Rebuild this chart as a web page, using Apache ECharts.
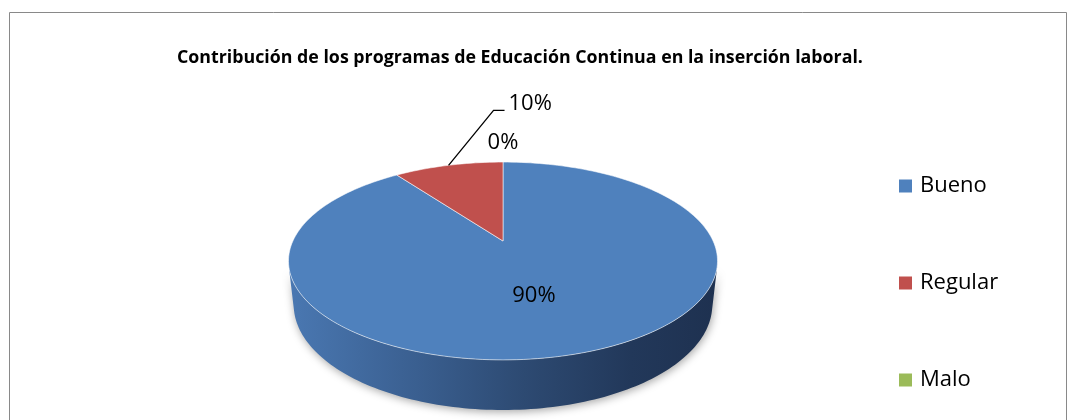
<!DOCTYPE html>
<html>
<head>
<meta charset="utf-8">
<script src="https://cdn.jsdelivr.net/npm/echarts@6/dist/echarts.min.js"></script>
<style>
html,body{margin:0;padding:0;background:#fff;}
#chart{width:1077px;height:420px;}
</style>
</head>
<body>
<div id="chart"></div>
<script>
// ---- data ----
const titleText = 'Contribución de los programas de Educación Continua en la inserción laboral.';
const categories = ['Bueno', 'Regular', 'Malo'];
const values = [90, 10, 0];
const colors = ['#4F81BD', '#C0504D', '#9BBB59'];
const labelModes = ['inside', 'leader', 'top'];

// ---- 3D projection settings ----
const CX = 503, CY = 241;
const SIN_A = 0.4516, COS_A = Math.sqrt(1 - SIN_A * SIN_A);
const DIST = 4.417, FOCAL = 928, H = 0.235;
const FONT = '"Open Sans", "Noto Sans", sans-serif';

function proj(thetaDeg, k, y) {
  const t = thetaDeg * Math.PI / 180;
  const px = k * Math.sin(t), pz = -k * Math.cos(t);
  const depth = DIST - y * SIN_A - pz * COS_A;
  const up = y * COS_A - pz * SIN_A;
  return [CX + FOCAL * px / depth, CY - FOCAL * up / depth];
}
function arc(a0, a1, y, steps) {
  const pts = [];
  for (let i = 0; i <= steps; i++) pts.push(proj(a0 + (a1 - a0) * i / steps, 1, y));
  return pts;
}
const visLimit = Math.acos(-1 / (DIST * COS_A)) * 180 / Math.PI; // ~104.7
const total = values.reduce((a, b) => a + b, 0);
let cum = 0;
const slices = values.map(v => { const s = cum; cum += v; return [s, cum, v]; });

const wallGrad = {
  type: 'linear', x: 288, y: 0, x2: 717, y2: 0, global: true,
  colorStops: [
    {offset: 0, color: '#4a78b2'},
    {offset: 0.3, color: '#3a5f90'},
    {offset: 0.55, color: '#2d4a72'},
    {offset: 0.8, color: '#22385a'},
    {offset: 1, color: '#1e3150'}
  ]
};

function renderSlice(idx) {
  return function (params, api) {
    const s = api.value(0), e = api.value(1), v = api.value(2);
    const a0 = s / total * 360, a1 = e / total * 360;
    const children = [];
    if (v > 0) {
      // side wall
      const w0 = Math.max(a0, visLimit), w1 = Math.min(a1, 360 - visLimit);
      if (w1 > w0) {
        const top = arc(w0, w1, 0, 120);
        const bot = arc(w1, w0, -H, 120);
        children.push({
          type: 'polygon', shape: {points: top.concat(bot)},
          style: {fill: wallGrad, shadowBlur: 8, shadowColor: 'rgba(0,0,0,0.35)', shadowOffsetY: 2, shadowOffsetX: 1}
        });
      }
      // top face
      const steps = Math.max(4, Math.ceil((a1 - a0) / 1.5));
      const face = [proj(0, 0, 0)].concat(arc(a0, a1, 0, steps));
      children.push({
        type: 'polygon', shape: {points: face},
        style: {fill: colors[idx], stroke: 'rgba(255,255,255,0.55)', lineWidth: 1}
      });
    }
    const pct = Math.round(v / total * 100) + '%';
    const mid = (a0 + a1) / 2;
    const txtStyle = {text: pct, fill: '#000', font: '22px ' + FONT};
    if (labelModes[idx] === 'inside') {
      const p = proj(mid, 0.5, 0);
      children.push({type: 'text', x: p[0] - 5, y: p[1] + 5,
        style: Object.assign({align: 'center', verticalAlign: 'middle'}, txtStyle)});
    } else if (labelModes[idx] === 'leader') {
      const p = proj(mid, 1, 0);
      const q = [p[0] + 45, p[1] - 55], r = [q[0] + 11, q[1]];
      children.push({type: 'polyline', shape: {points: [p, q, r]}, style: {stroke: '#000', lineWidth: 1.3, fill: null}});
      children.push({type: 'text', x: r[0] + 4, y: r[1] - 7,
        style: Object.assign({align: 'left', verticalAlign: 'middle'}, txtStyle)});
    } else {
      const p = proj(mid, 1, 0);
      children.push({type: 'text', x: p[0], y: p[1] - 19,
        style: Object.assign({align: 'center', verticalAlign: 'middle'}, txtStyle)});
    }
    return {type: 'group', children: children};
  };
}

const series = categories.map((name, i) => ({
  type: 'custom',
  name: name,
  coordinateSystem: 'none',
  renderItem: renderSlice(i),
  itemStyle: {color: colors[i]},
  data: [slices[i]],
  silent: true
}));

const chart = echarts.init(document.getElementById('chart'), null, {renderer: 'canvas'});
chart.setOption({
  animation: false,
  backgroundColor: '#fff',
  title: {
    text: titleText, left: 172, top: 44,
    textStyle: {fontFamily: FONT, fontWeight: 'bold', fontSize: 17.8, color: '#000'}
  },
  legend: {
    orient: 'vertical', left: 894, top: 168, itemGap: 71,
    icon: 'rect', itemWidth: 13, itemHeight: 13,
    data: categories,
    textStyle: {fontFamily: FONT, fontSize: 22, color: '#000', lineHeight: 26, padding: [0, 0, 0, 3]},
    selectedMode: false
  },
  graphic: [{
    type: 'rect', shape: {x: 9.5, y: 12.5, width: 1057, height: 430},
    style: {fill: null, stroke: '#898989', lineWidth: 1}, silent: true
  }],
  series: series
});
</script>
</body>
</html>
